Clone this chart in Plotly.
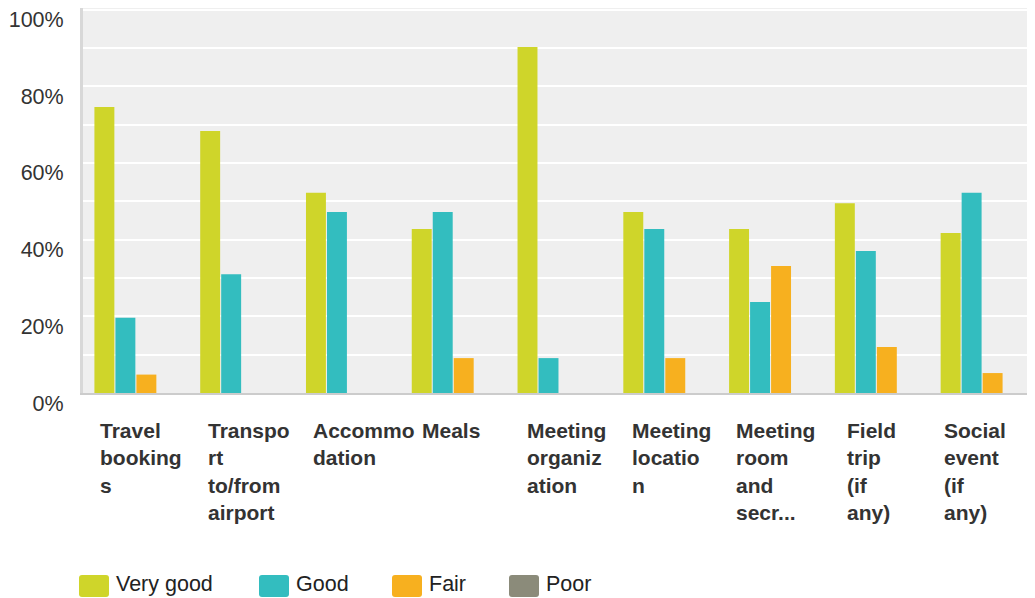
import plotly.graph_objects as go

categories = ["Travel bookings", "Transport to/from airport", "Accommodation", "Meals",
              "Meeting organization", "Meeting location", "Meeting room and secr...",
              "Field trip (if any)", "Social event (if any)"]
tick_labels = ["Travel<br>booking<br>s", "Transpo<br>rt<br>to/from<br>airport", "Accommo<br>dation",
               "Meals", "Meeting<br>organiz<br>ation", "Meeting<br>locatio<br>n",
               "Meeting<br>room<br>and<br>secr...", "Field<br>trip<br>(if<br>any)",
               "Social<br>event<br>(if<br>any)"]
very_good = [74.6, 68.3, 52.2, 42.8, 90.2, 47.2, 42.8, 49.5, 41.7]
good = [19.6, 31.0, 47.2, 47.2, 9.1, 42.8, 23.7, 37.0, 52.2]
fair = [4.8, 0, 0, 9.1, 0, 9.1, 33.1, 12.0, 5.2]
poor = [0, 0, 0, 0, 0, 0, 0, 0, 0]
series_names = ["Very good", "Good", "Fair", "Poor"]
series_colors = ["#cfd52a", "#33bdbf", "#f7b01f", "#8b8b7a"]
y_ticks = [0, 20, 40, 60, 80, 100]
y_tick_text = ["0%", "20%", "40%", "60%", "80%", "100%"]

FONT = "Liberation Sans, Arial, sans-serif"

fig = go.Figure()
for name, vals, col in zip(series_names, [very_good, good, fair, poor], series_colors):
    fig.add_trace(go.Bar(x=categories, y=vals, name=name, marker=dict(color=col, line=dict(width=0)),
                         showlegend=False))

# category labels (left aligned lines)
label_shifts = [-38, -36, -36, -33, -34, -35, -37, -31, -40]
for cat, lab, sh in zip(categories, tick_labels, label_shifts):
    fig.add_annotation(x=cat, xref="x", y=0, yref="paper", yanchor="top", xanchor="left",
                       align="left", xshift=sh, yshift=-24, showarrow=False,
                       text="<b>" + lab + "</b>", font=dict(family=FONT, size=21, color="#333333"))

# legend drawn manually with larger swatches
legend_x = [-4, 176, 309, 426]
for name, col, lx in zip(series_names, series_colors, legend_x):
    r = 3
    x0, x1, y0, y1 = lx, lx + 30, -204, -182
    path = (f"M{x0+r},{y0} L{x1-r},{y0} Q{x1},{y0} {x1},{y0+r} L{x1},{y1-r} Q{x1},{y1} {x1-r},{y1} "
            f"L{x0+r},{y1} Q{x0},{y1} {x0},{y1-r} L{x0},{y0+r} Q{x0},{y0} {x0+r},{y0} Z")
    fig.add_shape(type="path", path=path, xref="paper", yref="paper", xsizemode="pixel",
                  ysizemode="pixel", xanchor=0, yanchor=0, fillcolor=col, line=dict(width=0))
    fig.add_annotation(x=0, xref="paper", y=0, yref="paper", xanchor="left", yanchor="middle",
                       xshift=lx + 35, yshift=-191, showarrow=False, text=name,
                       font=dict(family=FONT, size=21.5, color="#222222"))

# page body has an 8px margin, so the figure is 8px smaller and margins compensate
fig.update_layout(
    width=1027, height=590,
    margin=dict(l=75, r=0, t=0, b=205, autoexpand=False),
    paper_bgcolor="white", plot_bgcolor="#efefef",
    barmode="group", bargap=0.206, bargroupgap=0.05,
    font=dict(family=FONT, size=21, color="#333333"),
)
fig.update_xaxes(showticklabels=False, showgrid=False, showline=True, linecolor="#cccccc",
                 linewidth=2, ticks="", automargin=False)
fig.update_yaxes(range=[0, 100.4], tickvals=y_ticks, ticktext=y_tick_text, showgrid=True,
                 gridcolor="white", gridwidth=2, zeroline=False, showline=True,
                 linecolor="#d8d8d8", linewidth=3, ticks="", ticklabelstandoff=12,
                 ticklabelshift=10, ticklabeloverflow="allow", automargin=False,
                 tickfont=dict(family=FONT, size=21.5, color="#333333"),
                 minor=dict(dtick=10, showgrid=True, gridcolor="white", gridwidth=2))

fig.write_html("out.html")
